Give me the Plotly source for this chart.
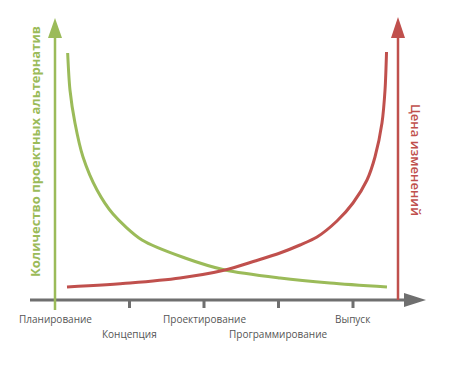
import plotly.graph_objects as go

# ---- data ----
stages = ["Планирование", "Концепция", "Проектирование", "Программирование", "Выпуск"]
stage_pos = [0, 1, 2, 3, 4]

alt_x = [0.170, 0.201, 0.268, 0.376, 0.564, 0.779, 1.168, 1.745, 2.282, 3.020, 3.691, 4.456]
alt_y = [98.8, 84.0, 70.8, 57.2, 44.0, 34.4, 24.0, 16.8, 12.0, 8.8, 6.8, 5.2]

cost_x = [0.161, 1.007, 1.678, 2.282, 2.685, 3.020, 3.289, 3.517, 3.785, 4.000, 4.188, 4.295, 4.389, 4.430, 4.450]
cost_y = [5.2, 6.8, 8.8, 12.0, 15.6, 18.8, 22.0, 25.2, 31.6, 38.8, 48.0, 57.2, 70.8, 84.0, 99.2]

left_title = "Количество проектных альтернатив"
right_title = "Цена изменений"

GREEN = "#9bbb59"
RED = "#c0504d"
GRAY = "#6f6f6f"
TEXT = "#555555"

# pixel helpers (layout geometry only)
X0, XS = 55.0, 74.5     # px of stage 0, px per stage
Y0, YS = 300.0, 2.5     # px of value 0, px per value unit
def vx(px): return (px - X0) / XS
def vy(py): return (Y0 - py) / YS

fig = go.Figure()
fig.add_trace(go.Scatter(x=alt_x, y=alt_y, mode="lines",
                         line=dict(color=GREEN, width=3, shape="spline", smoothing=0.8),
                         hoverinfo="skip"))
fig.add_trace(go.Scatter(x=cost_x, y=cost_y, mode="lines",
                         line=dict(color=RED, width=3, shape="spline", smoothing=0.8),
                         hoverinfo="skip"))

shapes = []
# horizontal axis
shapes.append(dict(type="line", x0=vx(30), x1=vx(407), y0=0, y1=0,
                   line=dict(color=GRAY, width=3), layer="below"))
shapes.append(dict(type="path",
                   path=f"M {vx(404)} {vy(293)} L {vx(426)} {vy(300)} L {vx(404)} {vy(307)} Z",
                   fillcolor=GRAY, line=dict(width=0)))
# ticks
for p in stage_pos[1:]:
    shapes.append(dict(type="line", x0=p, x1=p, y0=0, y1=vy(308),
                       line=dict(color=GRAY, width=3), layer="below"))
# green axis
shapes.append(dict(type="line", x0=0, x1=0, y0=vy(310), y1=vy(36),
                   line=dict(color=GREEN, width=2.5)))
shapes.append(dict(type="path",
                   path=f"M {vx(48)} {vy(38)} L {vx(55)} {vy(18)} L {vx(62)} {vy(38)} Z",
                   fillcolor=GREEN, line=dict(width=0)))
# red axis
shapes.append(dict(type="line", x0=vx(398), x1=vx(398), y0=0, y1=vy(36),
                   line=dict(color=RED, width=2.5)))
shapes.append(dict(type="path",
                   path=f"M {vx(391)} {vy(38)} L {vx(398)} {vy(17)} L {vx(405)} {vy(38)} Z",
                   fillcolor=RED, line=dict(width=0)))

annotations = []
for i, (p, s) in enumerate(zip(stage_pos, stages)):
    annotations.append(dict(x=p, y=vy(319 if i % 2 == 0 else 334), text=s, showarrow=False,
                            xanchor="center", yanchor="middle",
                            font=dict(family="Open Sans", size=10, color=TEXT)))
annotations.append(dict(x=vx(35), y=vy(152), text=left_title, textangle=-90, showarrow=False,
                        xanchor="center", yanchor="middle",
                        font=dict(family="Open Sans", size=13, color=GREEN, weight=700)))
annotations.append(dict(x=vx(416), y=vy(160), text=right_title, textangle=90, showarrow=False,
                        xanchor="center", yanchor="middle",
                        font=dict(family="Open Sans", size=13, color=RED, weight=600)))

fig.update_layout(
    width=450, height=371,
    margin=dict(l=0, r=0, t=0, b=0),
    paper_bgcolor="white", plot_bgcolor="white",
    showlegend=False,
    xaxis=dict(range=[vx(0), vx(450)], visible=False, fixedrange=True),
    yaxis=dict(range=[vy(371), vy(0)], visible=False, fixedrange=True),
    shapes=shapes, annotations=annotations,
)
fig.write_html("out.html", config={"displayModeBar": False},
               post_script="document.body.style.margin='0';document.body.style.overflow='hidden';")
